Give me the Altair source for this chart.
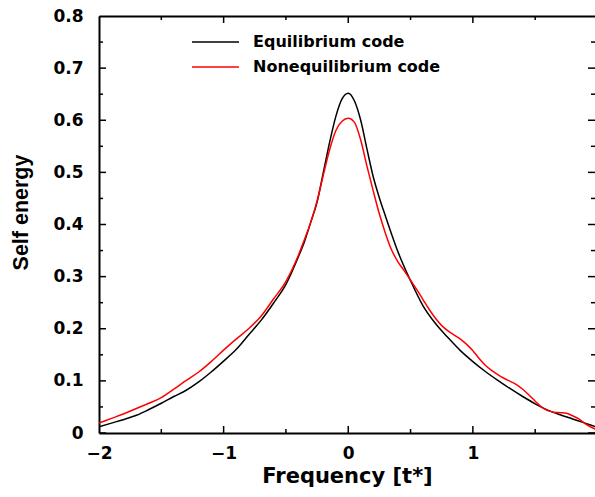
import altair as alt
import pandas as pd

# ---- data ----
eq_x = [-2.0, -1.9, -1.8, -1.7, -1.6, -1.5, -1.4, -1.3, -1.2, -1.1, -1.0, -0.9, -0.8, -0.7, -0.6,
        -0.5, -0.4, -0.35, -0.3, -0.25, -0.2, -0.15, -0.1, -0.05, 0.0, 0.05, 0.1, 0.15, 0.2, 0.25,
        0.3, 0.35, 0.4, 0.5, 0.6, 0.7, 0.8, 0.9, 1.0, 1.1, 1.2, 1.3, 1.4, 1.5, 1.6, 1.7, 1.8, 1.9, 2.0]
eq_y = [0.012, 0.019, 0.026, 0.034, 0.045, 0.057, 0.070, 0.082, 0.098, 0.117, 0.138, 0.160, 0.188,
        0.216, 0.249, 0.285, 0.338, 0.368, 0.405, 0.443, 0.500, 0.557, 0.607, 0.641, 0.652, 0.637,
        0.600, 0.545, 0.492, 0.451, 0.415, 0.380, 0.347, 0.292, 0.244, 0.210, 0.183, 0.158, 0.137,
        0.118, 0.101, 0.085, 0.070, 0.056, 0.044, 0.035, 0.027, 0.019, 0.011]

neq_x = [-2.0, -1.9, -1.8, -1.7, -1.6, -1.5, -1.4, -1.3, -1.2, -1.1, -1.0, -0.9, -0.8, -0.7, -0.6,
         -0.5, -0.4, -0.35, -0.3, -0.25, -0.2, -0.15, -0.1, -0.05, 0.0, 0.05, 0.1, 0.15, 0.2, 0.25,
         0.3, 0.35, 0.4, 0.45, 0.5, 0.55, 0.6, 0.65, 0.7, 0.75, 0.8, 0.85, 0.9, 0.95, 1.0, 1.05,
         1.1, 1.15, 1.2, 1.25, 1.3, 1.35, 1.4, 1.45, 1.5, 1.55, 1.6, 1.65, 1.7, 1.75, 1.8, 1.85,
         1.9, 1.95, 2.0]
neq_y = [0.019, 0.028, 0.037, 0.047, 0.057, 0.068, 0.084, 0.101, 0.117, 0.137, 0.159, 0.180, 0.200,
         0.224, 0.257, 0.291, 0.341, 0.372, 0.405, 0.445, 0.495, 0.543, 0.580, 0.598, 0.604, 0.596,
         0.562, 0.512, 0.465, 0.420, 0.382, 0.350, 0.328, 0.311, 0.293, 0.275, 0.256, 0.237, 0.220,
         0.206, 0.196, 0.188, 0.180, 0.170, 0.158, 0.143, 0.130, 0.120, 0.112, 0.105, 0.099, 0.093,
         0.084, 0.073, 0.061, 0.050, 0.043, 0.040, 0.039, 0.038, 0.033, 0.027, 0.018, 0.011, 0.006]

series_names = ["Equilibrium code", "Nonequilibrium code"]
series_colors = ["black", "red"]

x_major = [-2, -1, 0, 1, 2]
x_minor = [-1.5, -0.5, 0.5, 1.5]
y_major = [0, 0.1, 0.2, 0.3, 0.4, 0.5, 0.6, 0.7, 0.8]
y_minor = [0.05, 0.15, 0.25, 0.35, 0.45, 0.55, 0.65, 0.75]

x_domain = [-2, 1.98]
y_domain = [0, 0.8]

rows = []
for xv, yv in zip(eq_x, eq_y):
    rows.append({"series": series_names[0], "x": xv, "y": yv})
for xv, yv in zip(neq_x, neq_y):
    rows.append({"series": series_names[1], "x": xv, "y": yv})
df = pd.DataFrame(rows)

W, H = 496, 417
xs = alt.Scale(domain=x_domain, nice=False, zero=False)
ys = alt.Scale(domain=y_domain, nice=False, zero=False)

FONT_H = "DejaVu Sans"

lines = alt.Chart(df).mark_line(strokeWidth=1.5, interpolate="monotone", clip=True).encode(
    x=alt.X("x:Q", scale=xs, title="Frequency [t*]",
            axis=alt.Axis(orient="bottom", values=x_major, format="~g", ticks=False, tickSize=0,
                          grid=False, domain=True, domainWidth=2, domainColor="black",
                          labelFlush=False, labelOverlap=False,
                          labelPadding=12, labelFont=FONT_H, labelFontWeight="bold",
                          labelFontSize=17, labelColor="black",
                          titleFont=FONT_H, titleFontWeight="bold", titleFontSize=21,
                          titleColor="black", titlePadding=4)),
    y=alt.Y("y:Q", scale=ys, title="Self energy",
            axis=alt.Axis(orient="left", values=y_major, format="~g", ticks=False, tickSize=0,
                          grid=False, domain=True, domainWidth=2, domainColor="black",
                          labelFlush=False, labelOverlap=False,
                          labelPadding=16, labelFont=FONT_H, labelFontWeight="bold",
                          labelFontSize=17, labelColor="black",
                          titleFont="Liberation Sans", titleFontWeight="bold", titleFontSize=21.5,
                          titleColor="black", titleAngle=270, titleBaseline="middle",
                          titleAlign="center", titleX=-78, titleY=196)),
    color=alt.Color("series:N",
                    scale=alt.Scale(domain=series_names, range=series_colors),
                    legend=alt.Legend(orient="none", legendX=92, legendY=16, title=None,
                                      symbolType="stroke", symbolSize=2209, symbolStrokeWidth=1.5,
                                      labelFont=FONT_H, labelFontWeight="bold",
                                      labelFontSize=16, labelColor="black", labelOffset=13,
                                      labelLimit=0, clipHeight=20, rowPadding=5, padding=0)),
)

# top frame line
top_frame = alt.Chart(df).mark_line(opacity=0).encode(
    x=alt.X("x:Q", scale=xs, title=None,
            axis=alt.Axis(orient="top", ticks=False, labels=False, grid=False,
                          domain=True, domainWidth=2, domainColor="black")),
    y=alt.Y("y:Q", scale=ys, axis=None),
    detail="series:N",
)


def ticks(values, along, edge_value, length):
    tdf = pd.DataFrame({"v": values})
    if along == "x":
        return alt.Chart(tdf).mark_tick(orient="vertical", size=2 * length, thickness=1.5,
                                        color="black", opacity=1, clip=True).encode(
            x=alt.X("v:Q", scale=xs, axis=None),
            y=alt.YDatum(edge_value, scale=ys, axis=None),
        )
    return alt.Chart(tdf).mark_tick(orient="horizontal", size=2 * length, thickness=1.5,
                                    color="black", opacity=1, clip=True).encode(
        y=alt.Y("v:Q", scale=ys, axis=None),
        x=alt.XDatum(edge_value, scale=xs, axis=None),
    )


tick_layers = [
    ticks(x_major, "x", y_domain[0], 7), ticks(x_minor, "x", y_domain[0], 4),
    ticks(x_major, "x", y_domain[1], 7), ticks(x_minor, "x", y_domain[1], 4),
    ticks(y_major, "y", x_domain[0], 7), ticks(y_minor, "y", x_domain[0], 4),
    ticks(y_major, "y", x_domain[1], 7), ticks(y_minor, "y", x_domain[1], 4),
]

chart = alt.layer(lines, top_frame, *tick_layers).resolve_axis(
    x="independent", y="independent"
).properties(
    width=W, height=H,
    autosize=alt.AutoSizeParams(type="none"),
    padding={"left": 99, "top": 16, "right": 0, "bottom": 64},
    background="white",
).configure_view(strokeOpacity=0)

chart.save("out.html", embed_options={"renderer": "svg", "actions": False})
